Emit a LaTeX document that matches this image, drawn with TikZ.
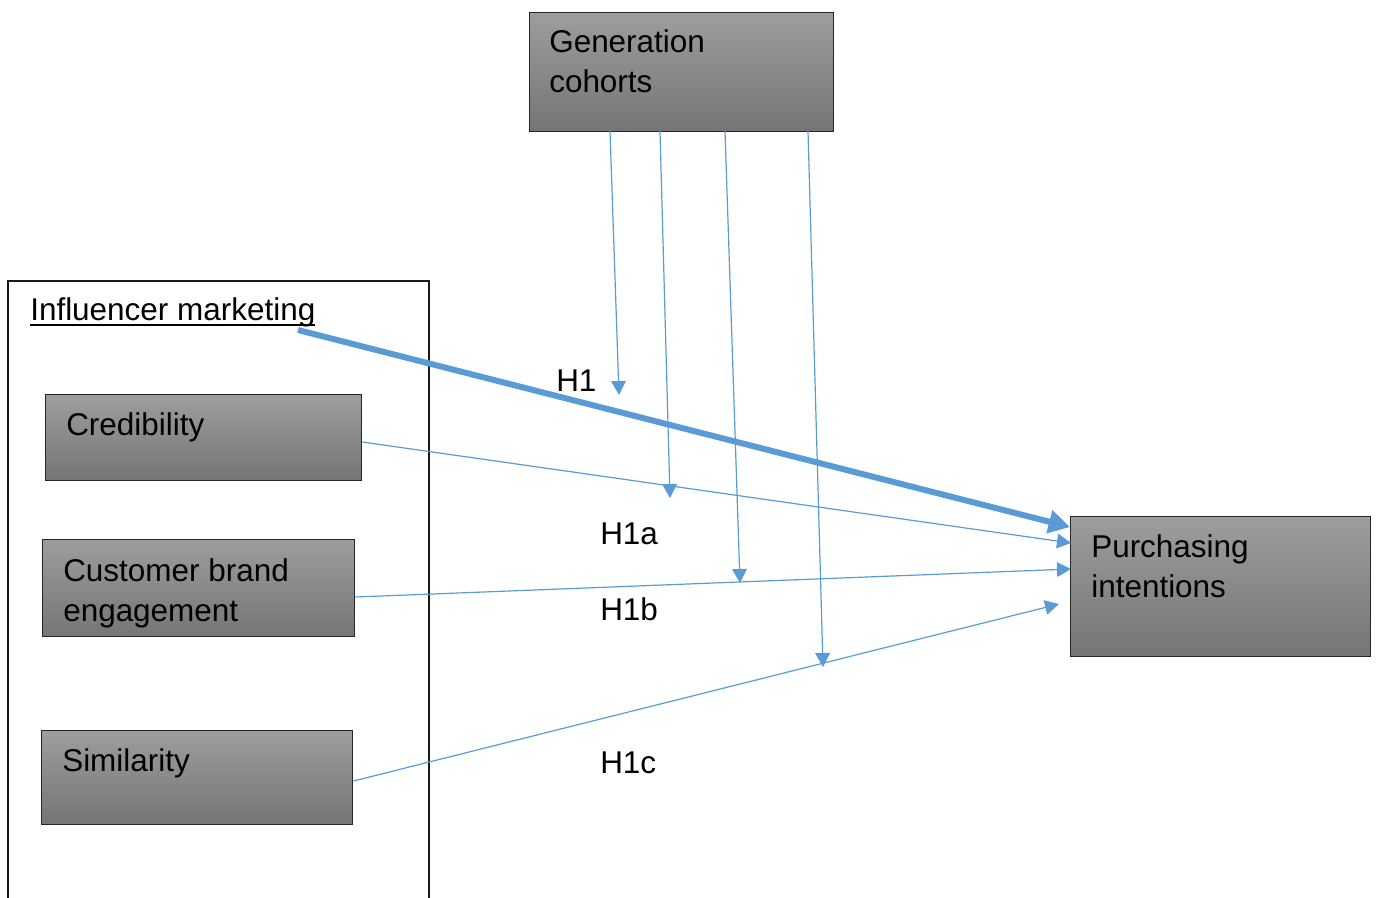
\documentclass[tikz,border=0pt]{standalone}
\usepackage{fontspec}
\setmainfont{Liberation Sans}
\newcommand{\thickul}[1]{\setbox0\hbox{#1}\rlap{\rule[-4.8pt]{\wd0}{1.5pt}}\box0}
\usetikzlibrary{arrows.meta,calc}
\definecolor{arrowblue}{HTML}{5B9BD5}
\definecolor{topgray}{HTML}{9D9D9D}
\definecolor{botgray}{HTML}{757575}
\tikzset{
  graybox/.style={draw=black!85, line width=1pt, top color=topgray, bottom color=botgray, inner sep=0pt, anchor=north west},
  boxtext/.style={anchor=base west, inner sep=0pt, align=left, font=\fontsize{23.6}{30}\selectfont},
  hlabel/.style={anchor=base west, inner sep=0pt, font=\fontsize{23.6}{30}\selectfont},
  thinarrow/.style={draw=arrowblue, line width=0.9pt, -{Triangle[length=10.5pt,width=11pt]}},
  thickarrow/.style={draw=arrowblue, line width=4.5pt, -{Triangle[length=16pt,width=17pt]}},
}
\begin{document}
\begin{tikzpicture}[x=0.75pt,y=-0.75pt]
\useasboundingbox (0,0) rectangle (1377,897);
% outer frame (open at bottom)
\draw[line width=1pt, black!90] (8,905) -- (8,281) -- (429,281) -- (429,905);
% boxes
\node[graybox, minimum width=304*0.75pt, minimum height=119*0.75pt] (gen) at (529,12) {};
\node[graybox, minimum width=300*0.75pt, minimum height=140*0.75pt] (pur) at (1070,516) {};
\node[graybox, minimum width=316*0.75pt, minimum height=86*0.75pt] (cred) at (45,394) {};
\node[graybox, minimum width=312*0.75pt, minimum height=97*0.75pt] (cbe) at (42,539) {};
\node[graybox, minimum width=311*0.75pt, minimum height=94*0.75pt] (sim) at (41,730) {};
% texts (multi-line texts are anchored at the baseline of their last line)
\node[boxtext] (gentxt) at (549,92) {Generation\\cohorts};
\node[boxtext] (purtxt) at (1091,597) {Purchasing\\intentions};
\node[boxtext] (credtxt) at (66,435) {Credibility};
\node[boxtext] (cbetxt) at (63,621) {Customer brand\\engagement};
\node[boxtext] (simtxt) at (62,771) {Similarity};
\node[boxtext] (inf) at (30,320) {\thickul{Influencer marketing}};
\node[hlabel] (h1) at (556,391) {H1};
\node[hlabel] (h1a) at (600,544) {H1a};
\node[hlabel] (h1b) at (600,620) {H1b};
\node[hlabel] (h1c) at (600,773) {H1c};
% coordinates
\coordinate (infend) at (298,330);
\coordinate (g1) at (610,131);
\coordinate (g2) at (660,131);
\coordinate (g3) at (725,131);
\coordinate (g4) at (808,131);
\coordinate (m1) at (619,395);
\coordinate (m2) at (670,498);
\coordinate (m3) at (740,583);
\coordinate (m4) at (823,667);
\coordinate (credin) at (1071,543);
\coordinate (cbein) at (1071,569);
\coordinate (simin) at (1059,604);
% connectors
\draw[thinarrow] (cred.east |- 0,442) -- (credin);
\draw[thinarrow] (cbe.east |- 0,597) -- (cbein);
\draw[thinarrow] (sim.east |- 0,781) -- (simin);
\draw[thinarrow] (g1) -- (m1);
\draw[thinarrow] (g2) -- (m2);
\draw[thinarrow] (g3) -- (m3);
\draw[thinarrow] (g4) -- (m4);
\draw[thickarrow] (infend) -- (pur.north west |- 0,527);
\end{tikzpicture}
\end{document}
